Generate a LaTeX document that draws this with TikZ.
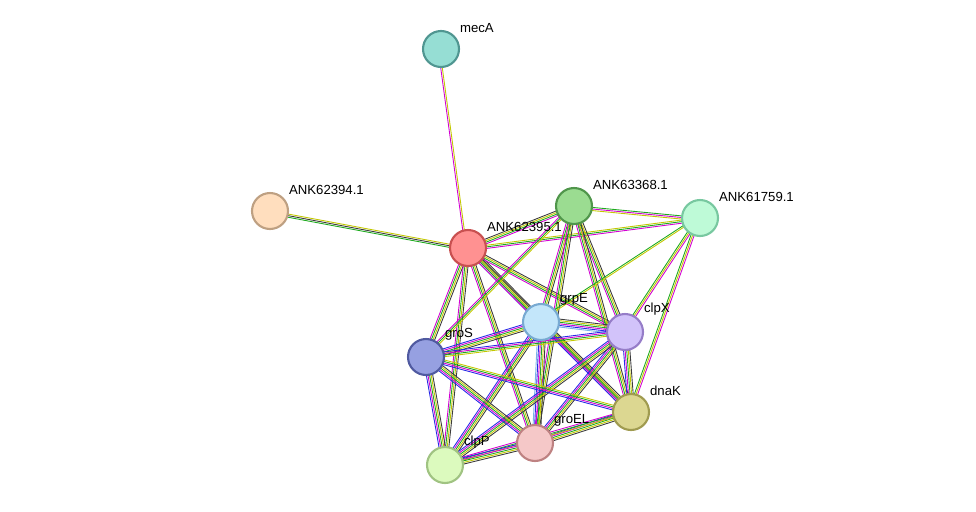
\documentclass[tikz,border=0pt]{standalone}
\usepackage{fontspec}
\setmainfont{Liberation Sans}
\usetikzlibrary{calc}
\definecolor{evm}{RGB}{210,0,210}
\definecolor{evg}{RGB}{30,170,30}
\definecolor{evy}{RGB}{195,200,0}
\definecolor{evk}{RGB}{60,60,60}
\definecolor{evb}{RGB}{40,40,230}
\definecolor{evc}{RGB}{120,180,230}
\tikzset{
  prot/.style={circle, minimum size=0.72cm, line width=1.2pt, inner sep=0pt},
  plabel/.style={anchor=south west, inner sep=0pt, xshift=3pt, yshift=1.5pt, font=\fontsize{7.5}{9}\selectfont},
}
\begin{document}
\begin{tikzpicture}[x=0.02cm, y=-0.02cm]
\useasboundingbox (0,0) rectangle (976,511);

% proteins
\coordinate (mecA) at (441,49);
\coordinate (a94) at (270,211);
\coordinate (a95) at (468,248);
\coordinate (a68) at (574,206);
\coordinate (a59) at (700,218);
\coordinate (grpE) at (541,322);
\coordinate (clpX) at (625,332);
\coordinate (groS) at (426,357);
\coordinate (dnaK) at (631,412);
\coordinate (groEL) at (535,443);
\coordinate (clpP) at (445,465);

% evidence lines
\foreach \a/\b/\cl in {mecA/a95/{m,y}, a94/a95/{g,k,y}, a95/a68/{m,g,y,k}, a95/a59/{m,g,y},
  a95/grpE/{c,m,g,y,k}, a95/clpX/{m,g,y,k}, a95/groS/{m,g,y,k}, a95/dnaK/{m,g,y,k},
  a95/groEL/{m,g,y,k}, a95/clpP/{m,g,y,k}, a68/a59/{y,m,g},
  a68/grpE/{m,g,y,k}, a68/clpX/{m,g,y,k}, a68/dnaK/{m,g,y,k}, a68/groS/{m,g,y},
  a68/groEL/{m,g,y,k}, a59/clpX/{g,y,m}, a59/dnaK/{g,y,m}, a59/grpE/{g,y},
  grpE/clpX/{c,b,m,g,y,k}, grpE/dnaK/{b,m,g,y,k}, grpE/groS/{b,m,g,y,k},
  grpE/groEL/{c,b,m,g,y,k}, grpE/clpP/{b,m,g,y,k},
  clpX/dnaK/{b,m,g,y,k}, clpX/groS/{b,m,g,y}, clpX/groEL/{b,m,g,y,k}, clpX/clpP/{b,m,g,y,k},
  groS/dnaK/{b,m,g,y}, groS/groEL/{b,m,g,y,k}, groS/clpP/{b,m,g,y,k},
  dnaK/groEL/{b,m,g,y,k}, dnaK/clpP/{m,g,y}, groEL/clpP/{b,m,g,y,k}}
  \foreach \c [count=\i] in \cl
    \draw[draw=ev\c, line width=0.5pt] ($(\a)!{\i*0.9pt-2.5pt}!90:(\b)$) -- ($(\b)!{\i*0.9pt-2.5pt}!-90:(\a)$);

% nodes
\node[prot, fill={rgb,255:red,150;green,222;blue,212}, draw={rgb,255:red,80;green,150;blue,145}, label={[plabel]north east:mecA}] (n1) at (mecA) {};
\node[prot, fill={rgb,255:red,255;green,222;blue,190}, draw={rgb,255:red,190;green,160;blue,130}, label={[plabel]north east:ANK62394.1}] (n2) at (a94) {};
\node[prot, fill={rgb,255:red,255;green,145;blue,145}, draw={rgb,255:red,200;green,80;blue,80}, label={[plabel]north east:ANK62395.1}] (n3) at (a95) {};
\node[prot, fill={rgb,255:red,155;green,220;blue,145}, draw={rgb,255:red,80;green,150;blue,75}, label={[plabel]north east:ANK63368.1}] (n4) at (a68) {};
\node[prot, fill={rgb,255:red,190;green,250;blue,215}, draw={rgb,255:red,120;green,200;blue,160}, label={[plabel]north east:ANK61759.1}] (n5) at (a59) {};
\node[prot, fill={rgb,255:red,195;green,230;blue,250}, draw={rgb,255:red,120;green,170;blue,210}, label={[plabel]north east:grpE}] (n6) at (grpE) {};
\node[prot, fill={rgb,255:red,210;green,195;blue,250}, draw={rgb,255:red,150;green,125;blue,200}, label={[plabel]north east:clpX}] (n7) at (clpX) {};
\node[prot, fill={rgb,255:red,150;green,160;blue,225}, draw={rgb,255:red,80;green,90;blue,160}, label={[plabel]north east:groS}] (n8) at (groS) {};
\node[prot, fill={rgb,255:red,220;green,215;blue,145}, draw={rgb,255:red,160;green,155;blue,80}, label={[plabel]north east:dnaK}] (n9) at (dnaK) {};
\node[prot, fill={rgb,255:red,245;green,200;blue,200}, draw={rgb,255:red,190;green,130;blue,130}, label={[plabel]north east:groEL}] (n10) at (groEL) {};
\node[prot, fill={rgb,255:red,220;green,250;blue,190}, draw={rgb,255:red,160;green,195;blue,130}, label={[plabel]north east:clpP}] (n11) at (clpP) {};
\end{tikzpicture}
\end{document}
